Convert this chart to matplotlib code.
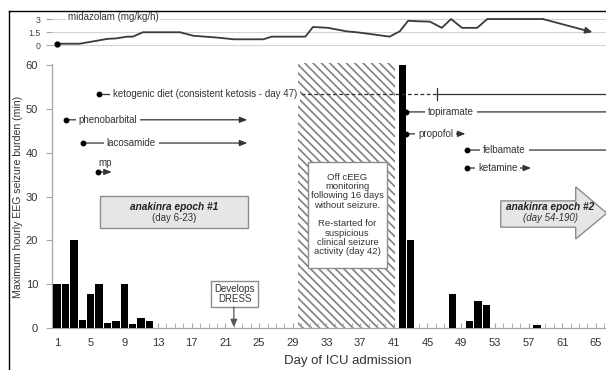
import matplotlib
matplotlib.use('Agg')
import matplotlib.pyplot as plt
from matplotlib.patches import Rectangle, Polygon
from matplotlib.lines import Line2D

plt.rcParams['font.family'] = ['Liberation Sans', 'DejaVu Sans']
plt.rcParams['hatch.linewidth'] = 1.2

# ---------------- data ----------------
bar_days = [1, 2, 3, 4, 5, 6, 7, 8, 9, 10, 11, 12, 42, 43, 48, 50, 51, 52, 58]
bar_vals = [10, 10, 20, 1.8, 7.8, 10, 1.2, 1.7, 10, 0.8, 2.2, 1.5, 60, 20, 7.8, 1.7, 6.2, 5.2, 0.7]

midaz_days = [1, 3.7, 5.5, 7, 8, 9.3, 10, 11.2, 15.6, 17.2, 20, 22, 25.5, 26.5, 30.5, 31.4,
              33.2, 35.4, 36.6, 38.2, 40.5, 41.7, 42.7, 43.7, 45.3, 46.7, 47.8, 49.1, 50.9,
              52.1, 58.7, 64.6]
midaz_vals = [0.2, 0.2, 0.5, 0.75, 0.8, 1.0, 1.0, 1.5, 1.5, 1.1, 0.9, 0.7, 0.7, 1.0, 1.0, 2.1,
              2.0, 1.6, 1.5, 1.3, 1.0, 1.6, 2.8, 2.75, 2.7, 2.0, 3.0, 2.0, 2.0,
              3.0, 3.0, 1.5]

x_ticks = list(range(1, 66, 4))
y_ticks = [0, 10, 20, 30, 40, 50, 60]
midaz_ticks = [0, 1.5, 3]
midaz_ticklabels = ['0', '1.5', '3']

# drugs: (label, start day, end day, level, text start day, arrow)
drugs = [
    ('phenobarbital', 2.05, 23.6, 47.5, 3.6, True),
    ('lacosamide', 4.1, 23.6, 42.2, 6.9, True),
    ('topiramate', 42.45, 66.2, 49.3, 45.1, False),
    ('propofol', 42.45, 49.5, 44.3, 43.9, True),
    ('felbamate', 49.7, 66.2, 40.6, 51.6, False),
    ('ketamine', 49.7, 57.3, 36.5, 51.0, True),
]
mp_start, mp_end, mp_level = 5.9, 7.5, 35.6
keto_start, keto_dash_start, keto_day, keto_end, keto_level = 6.0, 29.3, 46.1, 66.2, 53.4
off_eeg_span = (29.6, 41.1)
dress_day = 22

XMIN, XMAX = 0.406, 66.2
TXT = '#333333'
LINEC = '#333333'

fig = plt.figure(figsize=(6.06, 3.7), dpi=100)

# ---------------- main axes ----------------
ax = fig.add_axes([52/606, 42/370, 554/606, (328-63.7)/370])
ax.set_xlim(XMIN, XMAX)
ax.set_ylim(0, 60.3)

# off-cEEG hatched region
ax.add_patch(Rectangle((off_eeg_span[0], 0), off_eeg_span[1]-off_eeg_span[0], 60.5,
                       facecolor='white', edgecolor='#808080', hatch='\\\\\\\\',
                       linewidth=0, zorder=1, clip_on=False))

ax.bar(bar_days, bar_vals, width=0.88, color='black', zorder=3)

for s in ['top', 'right']:
    ax.spines[s].set_visible(False)
for s in ['left', 'bottom']:
    ax.spines[s].set_color('#a6a6a6')
    ax.spines[s].set_linewidth(0.9)

ax.set_xticks(x_ticks)
ax.set_xticks(range(1, 67), minor=True)
ax.set_yticks(y_ticks)
ax.tick_params(axis='x', which='both', direction='in', length=3.5, color='#a6a6a6',
               labelsize=8, labelcolor=TXT, pad=7)
ax.tick_params(axis='y', direction='out', length=4, color='#a6a6a6',
               labelsize=8, labelcolor=TXT, pad=6)

fig.text(18/606, 1-197/370, 'Maximum hourly EEG seizure burden (min)', rotation=90,
         ha='center', va='center', fontsize=7.6, color=TXT)
fig.text(348/606, 1-361/370, 'Day of ICU admission', ha='center', va='center',
         fontsize=9.5, color=TXT)

FS = 7
bbox_w = dict(boxstyle='square,pad=0.3', facecolor='white', edgecolor='none')


def arrow_line(x0, x1, y, head=True):
    style = '-|>,head_length=0.45,head_width=0.18' if head else '-'
    ax.annotate('', xy=(x1, y), xytext=(x0, y), annotation_clip=False,
                arrowprops=dict(arrowstyle=style, color=LINEC, lw=0.9,
                                shrinkA=0, shrinkB=0), zorder=5)
    ax.plot([x0], [y], 'o', color='black', markersize=3.2, zorder=6, clip_on=False)


for label, x0, x1, y, tx, head in drugs:
    arrow_line(x0, x1, y, head)
    ax.text(tx, y, label, ha='left', va='center', fontsize=FS, color=TXT,
            bbox=bbox_w, zorder=7)

# mp
arrow_line(mp_start, mp_end, mp_level, True)
ax.text((mp_start+mp_end)/2, mp_level+2.1, 'mp', ha='center', va='center',
        fontsize=FS, color=TXT, zorder=7)

# ketogenic diet
ax.plot([keto_start, keto_dash_start], [keto_level]*2, color=LINEC, lw=0.9, zorder=5)
ax.plot([keto_dash_start, keto_day], [keto_level]*2, color=LINEC, lw=0.9,
        linestyle=(0, (3, 2)), zorder=5)
ax.plot([keto_day, keto_end], [keto_level]*2, color=LINEC, lw=0.9, zorder=5, clip_on=False)
ax.plot([keto_day, keto_day], [keto_level-1.3, keto_level+1.3], color=LINEC, lw=0.9, zorder=5)
ax.plot([keto_start], [keto_level], 'o', color='black', markersize=3.2, zorder=6)
ax.text(7.65, keto_level, 'ketogenic diet (consistent ketosis - day 47)', ha='left',
        va='center', fontsize=FS, color=TXT, bbox=bbox_w, zorder=7)

# anakinra epoch #1 box
ax.add_patch(Rectangle((6.1, 22.8), 23.7-6.1, 30.1-22.8, facecolor='#e6e6e6',
                       edgecolor='#8c8c8c', linewidth=1.0, zorder=4))
ax.text(14.9, 27.6, 'anakinra epoch #1', ha='center', va='center', fontsize=7.3,
        fontweight='bold', fontstyle='italic', color='#222222', zorder=7)
ax.text(14.9, 25.2, '(day 6-23)', ha='center', va='center', fontsize=7,
        color=TXT, zorder=7)

# anakinra epoch #2 arrow
ax.add_patch(Polygon([(53.7, 23.0), (62.6, 23.0), (62.6, 20.3), (66.3, 26.2),
                      (62.6, 32.2), (62.6, 29.0), (53.7, 29.0)], closed=True,
                     facecolor='#e6e6e6', edgecolor='#8c8c8c', linewidth=1.0,
                     zorder=4, clip_on=False))
ax.text(59.6, 27.5, 'anakinra epoch #2', ha='center', va='center', fontsize=7.3,
        fontweight='bold', fontstyle='italic', color='#222222', zorder=7)
ax.text(59.6, 25.2, '(day 54-190)', ha='center', va='center', fontsize=7,
        fontstyle='italic', color=TXT, zorder=7)

# off cEEG box
ax.add_patch(Rectangle((30.8, 13.7), 40.2-30.8, 37.9-13.7, facecolor='white',
                       edgecolor='#8c8c8c', linewidth=1.0, zorder=4))
ax.text(35.5, 25.9, 'Off cEEG\nmonitoring\nfollowing 16 days\nwithout seizure.\n\n'
        'Re-started for\nsuspicious\nclinical seizure\nactivity (day 42)',
        ha='center', va='center', fontsize=6.8, color=TXT, linespacing=1.05, zorder=7)

# develops DRESS
ax.add_patch(Rectangle((19.3, 4.8), 24.9-19.3, 10.7-4.8, facecolor='white',
                       edgecolor='#8c8c8c', linewidth=1.0, zorder=4))
ax.text(22.1, 7.75, 'Develops\nDRESS', ha='center', va='center', fontsize=7,
        color=TXT, linespacing=1.05, zorder=7)
ax.annotate('', xy=(dress_day, 0.2), xytext=(dress_day, 4.8),
            arrowprops=dict(arrowstyle='-|>,head_length=0.45,head_width=0.2',
                            color='#555555', lw=0.9, shrinkA=0, shrinkB=0), zorder=5)

# ---------------- midazolam axes ----------------
ax2 = fig.add_axes([52/606, 1-46.8/370, 554/606, (46.8-17.7)/370])
ax2.set_xlim(XMIN, XMAX)
ax2.set_ylim(-0.15, 3.15)
for s in ax2.spines.values():
    s.set_visible(False)
ax2.set_xticks([])
ax2.set_yticks(midaz_ticks)
ax2.set_yticklabels(midaz_ticklabels)
ax2.tick_params(axis='y', direction='out', length=4, color='#a6a6a6',
                labelsize=6.3, labelcolor='#444444', pad=4)
ax2.grid(axis='y', color='#d4d4d4', linewidth=0.8)
ax2.plot(midaz_days[:-1], midaz_vals[:-1], color='#3a3a3a', lw=1.3, zorder=3)
ax2.annotate('', xy=(midaz_days[-1], midaz_vals[-1]), xytext=(midaz_days[-2], midaz_vals[-2]),
             arrowprops=dict(arrowstyle='-|>,head_length=0.4,head_width=0.18',
                             color='#3a3a3a', lw=1.3, shrinkA=0, shrinkB=0), zorder=3)
ax2.plot([midaz_days[0]], [midaz_vals[0]], 'o', color='black', markersize=3.5, zorder=4)
ax2.text(2.3, 3.2, 'midazolam (mg/kg/h)', ha='left', va='center', fontsize=7,
         color=TXT, bbox=dict(boxstyle='square,pad=0.15', facecolor='white',
                              edgecolor='none'), zorder=5)

# outer frame (top and left edges visible)
fig.add_artist(Line2D([9/606, 1.0], [1-11/370, 1-11/370], transform=fig.transFigure,
                      color='black', lw=1.0))
fig.add_artist(Line2D([9/606, 9/606], [0, 1-11/370], transform=fig.transFigure,
                      color='black', lw=1.0))

fig.savefig('out.png', dpi=100)
